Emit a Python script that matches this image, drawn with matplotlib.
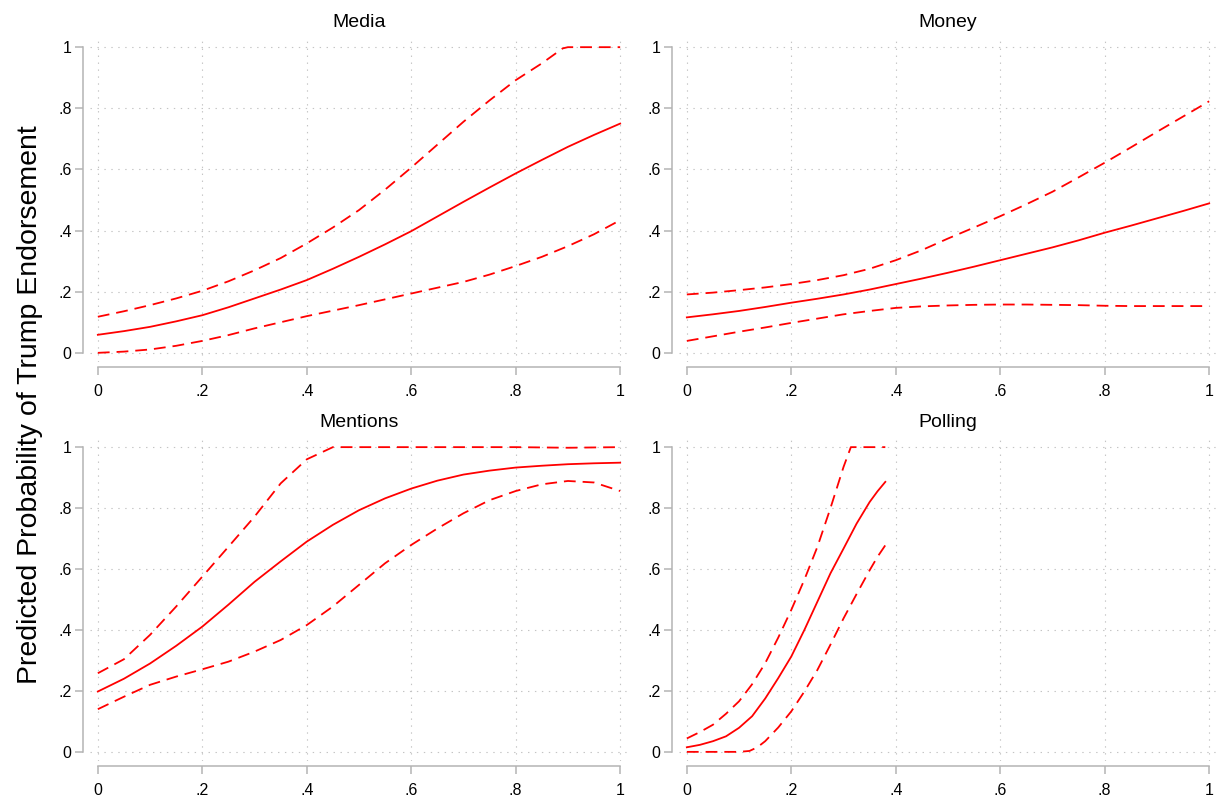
import matplotlib
matplotlib.use("Agg")
import matplotlib.pyplot as plt

plt.rcParams["font.family"] = ["Liberation Sans", "DejaVu Sans"]
plt.rcParams["lines.scale_dashes"] = False

# ---- data ----
x_full = [0, .05, .1, .15, .2, .25, .3, .35, .4, .45, .5, .55, .6, .65, .7, .75, .8, .85, .9, .95, 1]

media_fit = [.059, .071, .085, .103, .123, .149, .178, .207, .238, .275, .314, .355, .398, .446, .494, .541, .587, .631, .674, .713, .75]
media_hi_x = [0, .05, .1, .15, .2, .25, .3, .35, .4, .45, .5, .55, .6, .65, .7, .75, .8, .85, .89, .9, .95, 1]
media_hi = [.118, .136, .156, .178, .203, .234, .27, .31, .358, .41, .467, .534, .606, .681, .756, .826, .892, .947, .996, 1, 1, 1]
media_lo = [0, .004, .011, .023, .039, .058, .08, .1, .12, .138, .156, .175, .194, .213, .232, .256, .284, .314, .349, .388, .434]

money_fit = [.116, .126, .137, .15, .164, .177, .191, .207, .225, .243, .262, .282, .303, .324, .345, .368, .393, .416, .44, .464, .489]
money_hi = [.191, .197, .205, .214, .225, .238, .254, .275, .303, .336, .374, .41, .447, .486, .527, .574, .622, .672, .723, .773, .823]
money_lo = [.039, .054, .069, .083, .098, .112, .126, .137, .147, .152, .155, .157, .158, .158, .157, .156, .154, .153, .153, .153, .153]

mentions_fit = [.198, .24, .29, .348, .411, .483, .558, .625, .69, .745, .793, .832, .864, .89, .91, .923, .933, .939, .944, .947, .949]
mentions_hi = [.258, .304, .384, .477, .575, .673, .772, .881, .96, 1, 1, 1, 1, 1, 1, 1, 1, .999, .998, .999, 1]
mentions_lo = [.14, .181, .22, .247, .271, .296, .329, .367, .416, .477, .548, .619, .679, .733, .783, .826, .856, .878, .889, .884, .856]

polling_x = [0, .025, .05, .075, .1, .125, .15, .175, .2, .225, .25, .275, .3, .325, .35, .365, .38]
polling_fit = [.015, .023, .035, .051, .079, .117, .175, .242, .313, .40, .493, .586, .667, .749, .82, .855, .886]
polling_hi_x = [0, .025, .05, .075, .1, .125, .15, .175, .2, .225, .25, .275, .3, .314, .35, .38]
polling_hi = [.044, .065, .089, .125, .166, .222, .291, .375, .466, .565, .673, .80, .935, 1, 1, 1]
polling_lo_x = [0, .05, .1, .12, .135, .15, .175, .2, .225, .25, .275, .3, .325, .35, .365, .38]
polling_lo = [0, 0, 0, .003, .015, .035, .08, .133, .198, .269, .352, .438, .518, .596, .64, .678]

ticks = [0, .2, .4, .6, .8, 1]
tick_labels = ["0", ".2", ".4", ".6", ".8", "1"]

panels = [
    ("Media", (x_full, media_fit), (media_hi_x, media_hi), (x_full, media_lo)),
    ("Money", (x_full, money_fit), (x_full, money_hi), (x_full, money_lo)),
    ("Mentions", (x_full, mentions_fit), (x_full, mentions_hi), (x_full, mentions_lo)),
    ("Polling", (polling_x, polling_fit), (polling_hi_x, polling_hi), (polling_lo_x, polling_lo)),
]

W, H = 1224, 800
fig = plt.figure(figsize=(W / 100, H / 100), dpi=100)

# axes boxes in pixels: left, top, right, bottom
boxes = [(90, 38, 628, 362), (679, 38, 1217, 362),
         (90, 438, 628, 761), (679, 438, 1217, 761)]

grey = "#b4b4b4"
dash = (0, (8.5, 5))

for (name, fit, hi, lo), (l, t, r, b) in zip(panels, boxes):
    ax = fig.add_axes([l / W, 1 - b / H, (r - l) / W, (b - t) / H])
    ax.plot(*fit, color="red", lw=1.3)
    ax.plot(*hi, color="red", lw=1.3, linestyle=dash)
    ax.plot(*lo, color="red", lw=1.3, linestyle=dash)

    ax.set_xlim(-0.015, 1.015)
    ax.set_ylim(-0.03, 1.03)
    ax.set_xticks(ticks, tick_labels)
    ax.set_yticks(ticks, tick_labels)
    ax.grid(True, color="#c4c4c4", lw=0.8, linestyle=(0, (1, 4)))
    ax.set_axisbelow(True)

    for s in ["top", "right"]:
        ax.spines[s].set_visible(False)
    ax.spines["left"].set_position(("outward", 5))
    ax.spines["bottom"].set_position(("outward", 3.6))
    ax.spines["left"].set_bounds(0, 1)
    ax.spines["bottom"].set_bounds(0, 1)
    for s in ["left", "bottom"]:
        ax.spines[s].set_color(grey)
        ax.spines[s].set_linewidth(1.1)
    ax.tick_params(colors=grey, labelcolor="black", labelsize=11.5,
                   length=5.8, width=1.1)
    ax.tick_params(axis="x", pad=6.5)
    ax.tick_params(axis="y", pad=2.5)

    ax.set_title(name, fontsize=14, pad=8)

fig.text(0.0245, 0.494, "Predicted Probability of Trump Endorsement",
         rotation=90, fontsize=20.5, ha="center", va="center")

plt.savefig("out.png", dpi=100)
